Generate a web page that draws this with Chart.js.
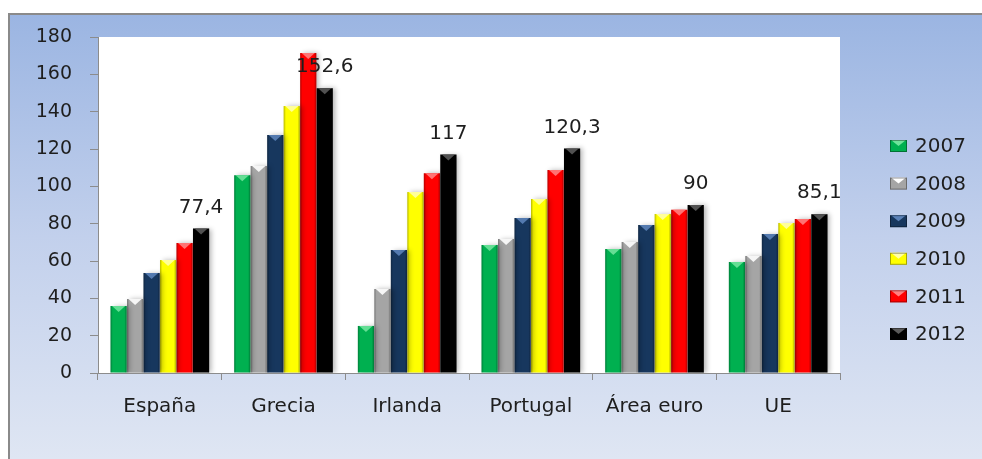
<!DOCTYPE html>
<html>
<head>
<meta charset="utf-8">
<script src="https://cdn.jsdelivr.net/npm/chart.js@4.4.1/dist/chart.umd.min.js"></script>
<style>
  html, body { margin: 0; padding: 0; background: #fff; }
  canvas { display: block; }
</style>
</head>
<body>
<canvas id="deuda" width="982" height="459"></canvas>
<script>
// deuda pública en % del PIB
const paises = ["España", "Grecia", "Irlanda", "Portugal", "Área euro", "UE"];
const anios = ["2007", "2008", "2009", "2010", "2011", "2012"];

const d2007 = [35.9, 106.0, 25.2, 68.6, 66.4, 59.5];
const d2008 = [39.6, 110.9, 45.0, 71.8, 70.2, 62.7];
const d2009 = [53.6, 127.5, 65.9, 83.0, 79.3, 74.5];
const d2010 = [60.5, 143.0, 96.9, 93.2, 85.2, 80.4];
const d2011 = [69.6, 171.4, 107.0, 108.7, 87.4, 82.5];
const d2012 = [77.4, 152.6, 117.0, 120.3, 90.0, 85.1];

const yTicks = [0, 20, 40, 60, 80, 100, 120, 140, 160, 180];

const series = [d2007, d2008, d2009, d2010, d2011, d2012];
const colores = ["#00b050", "#a5a5a5", "#17375e", "#ffff00", "#ff0000", "#000000"];
const brillos = ["#6fe39b", "#ffffff", "#5b82b8", "#ffffa8", "#ff8080", "#5a5a5a"];

Chart.defaults.font.family = "'DejaVu Sans', Verdana, sans-serif";
Chart.defaults.color = "#1e1e1e";

const fmt = v => String(v).replace(".", ",");

// fondo degradado, marco gris y área de trazado blanca
const fondo = {
  id: "fondo",
  beforeDraw(chart) {
    const { ctx, width, height, chartArea: a } = chart;
    ctx.save();
    ctx.fillStyle = "#fff";
    ctx.fillRect(0, 0, width, height);
    const g = ctx.createLinearGradient(0, 15, 0, height);
    g.addColorStop(0, "#9bb5e2");
    g.addColorStop(0.5, "#c2d0ec");
    g.addColorStop(1, "#dfe6f3");
    ctx.fillStyle = g;
    ctx.fillRect(9, 15, width - 9, height - 15);
    ctx.fillStyle = "#8a8a8a";
    ctx.fillRect(8, 13, width - 8, 2);
    ctx.fillRect(8, 13, 2, height - 13);
    ctx.fillStyle = "#fff";
    ctx.fillRect(a.left, a.top, a.right - a.left, a.bottom - a.top);
    ctx.restore();
  }
};

// sombra, biselado y etiqueta del último año
const barras3d = {
  id: "barras3d",
  beforeDatasetsDraw(chart) {
    const ctx = chart.ctx;
    ctx.save();
    ctx.shadowColor = "rgba(0,0,0,0.28)";
    ctx.shadowBlur = 5;
    ctx.shadowOffsetX = 3;
  },
  afterDatasetsDraw(chart) {
    const ctx = chart.ctx;
    ctx.restore();
    ctx.save();
    chart.data.datasets.forEach((ds, i) => {
      chart.getDatasetMeta(i).data.forEach(bar => {
        const { x, y, base, width } = bar.getProps(["x", "y", "base", "width"], true);
        const l = x - width / 2, r = x + width / 2;
        const sg = ctx.createLinearGradient(l, 0, r, 0);
        sg.addColorStop(0, "rgba(0,0,0,0.28)");
        sg.addColorStop(0.14, "rgba(0,0,0,0)");
        sg.addColorStop(0.86, "rgba(0,0,0,0)");
        sg.addColorStop(1, "rgba(0,0,0,0.32)");
        ctx.fillStyle = sg;
        ctx.fillRect(l, y, width, base - y);
        ctx.fillStyle = brillos[i];
        ctx.globalAlpha = 0.9;
        ctx.beginPath();
        ctx.moveTo(l + 1.5, y);
        ctx.lineTo(r - 1.5, y);
        ctx.lineTo(x, y + 6);
        ctx.closePath();
        ctx.fill();
        ctx.globalAlpha = 1;
      });
    });
    const last = chart.data.datasets.length - 1;
    ctx.font = "20px 'DejaVu Sans'";
    ctx.fillStyle = "#1e1e1e";
    ctx.textAlign = "center";
    ctx.textBaseline = "middle";
    chart.getDatasetMeta(last).data.forEach((bar, j) => {
      ctx.fillText(fmt(chart.data.datasets[last].data[j]), bar.x, bar.y - 21);
    });
    ctx.restore();
  }
};

// leyenda a la derecha
const leyenda = {
  id: "leyenda",
  afterDraw(chart) {
    const ctx = chart.ctx;
    ctx.save();
    ctx.font = "20px 'DejaVu Sans'";
    ctx.textBaseline = "middle";
    chart.data.datasets.forEach((ds, i) => {
      const cy = 146 + i * 37.6;
      ctx.fillStyle = ds.backgroundColor;
      ctx.fillRect(890, cy - 6, 17, 12);
      ctx.fillStyle = brillos[i];
      ctx.beginPath();
      ctx.moveTo(891, cy - 6);
      ctx.lineTo(906, cy - 6);
      ctx.lineTo(898.5, cy);
      ctx.closePath();
      ctx.fill();
      ctx.strokeStyle = "rgba(0,0,0,0.35)";
      ctx.lineWidth = 1;
      ctx.strokeRect(890.5, cy - 5.5, 16, 11);
      ctx.fillStyle = "#1e1e1e";
      ctx.fillText(ds.label, 915, cy + 1);
    });
    ctx.restore();
  }
};

new Chart(document.getElementById("deuda"), {
  type: "bar",
  data: {
    labels: paises,
    datasets: anios.map((a, i) => ({
      label: a,
      data: series[i],
      backgroundColor: colores[i],
      borderWidth: 0,
      categoryPercentage: 0.8,
      barPercentage: 0.98
    }))
  },
  options: {
    responsive: false,
    animation: false,
    devicePixelRatio: 1,
    layout: { padding: { top: 37, right: 142, left: 0, bottom: 0 } },
    plugins: { legend: { display: false }, tooltip: { enabled: false } },
    scales: {
      x: {
        grid: { drawOnChartArea: false, tickLength: 7, color: "#8c8c8c", offset: true },
        border: { color: "#8c8c8c" },
        ticks: { font: { size: 20 }, color: "#1e1e1e", padding: 15 },
        afterFit(s) { s.height = 86; }
      },
      y: {
        min: 0,
        max: 180,
        afterBuildTicks(s) { s.ticks = yTicks.map(v => ({ value: v })); },
        ticks: { font: { size: 19 }, color: "#1e1e1e", padding: 18 },
        grid: { drawOnChartArea: false, tickLength: 8, color: "#8c8c8c" },
        border: { color: "#8c8c8c" },
        afterFit(s) { s.width = 98; }
      }
    }
  },
  plugins: [fondo, barras3d, leyenda]
});
</script>
</body>
</html>
